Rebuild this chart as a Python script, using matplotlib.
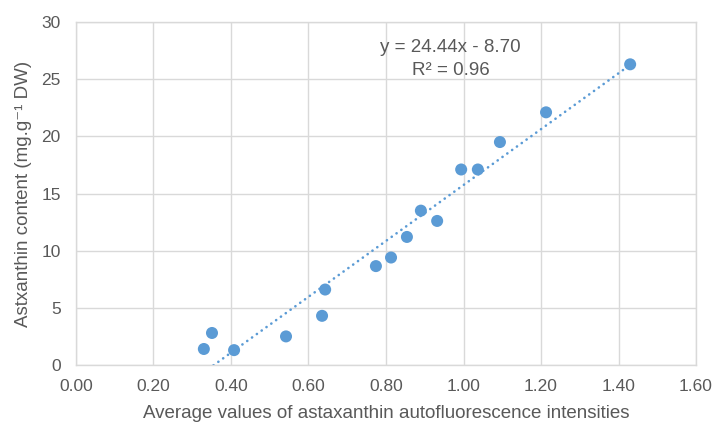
import matplotlib
matplotlib.use("Agg")
import matplotlib.pyplot as plt
import numpy as np

# autofluorescence intensity vs measured astaxanthin content
intensity = [0.33, 0.351, 0.408, 0.542, 0.635, 0.643, 0.774, 0.813, 0.854,
             0.89, 0.932, 0.994, 1.037, 1.094, 1.213, 1.43]
content = [1.4, 2.8, 1.3, 2.5, 4.3, 6.6, 8.65, 9.4, 11.2,
           13.5, 12.6, 17.1, 17.1, 19.5, 22.1, 26.3]

slope = 24.44
intercept = -8.70
r_squared = 0.96

x_ticks = [0.0, 0.2, 0.4, 0.6, 0.8, 1.0, 1.2, 1.4, 1.6]
y_ticks = [0, 5, 10, 15, 20, 25, 30]

BLUE = "#5B9BD5"
GRID = "#D9D9D9"
TEXT = "#595959"

plt.rcParams["font.family"] = ["Liberation Sans", "DejaVu Sans"]

fig = plt.figure(figsize=(7.18, 4.25), dpi=100)
ax = fig.add_axes([0.1058, 0.1412, 0.8636, 0.8070])

ax.set_xlim(0, 1.6)
ax.set_ylim(0, 30)
ax.set_xticks(x_ticks)
ax.set_xticklabels([f"{t:.2f}" for t in x_ticks])
ax.set_yticks(y_ticks)
ax.tick_params(length=0, labelsize=12.5, labelcolor=TEXT)
ax.tick_params(axis="x", pad=10)
ax.tick_params(axis="y", pad=11)
ax.grid(True, color=GRID, linewidth=1.0, zorder=0)
for sp in ax.spines.values():
    sp.set_color(GRID)
    sp.set_linewidth(1.0)

# linear trendline over the data range, round dots
xs = np.linspace(min(intensity), max(intensity), 200)
ax.plot(xs, slope * xs + intercept, color=BLUE, linewidth=1.9,
        linestyle=(0, (0.05, 2.2)), dash_capstyle="round", zorder=2)

ax.scatter(intensity, content, s=75, color=BLUE, edgecolors="none", zorder=3)

ax.text(0.603, 0.927, f"y = {slope:.2f}x - {abs(intercept):.2f}", transform=ax.transAxes,
        ha="center", va="center", fontsize=13.5, color=TEXT)
ax.text(0.605, 0.86, f"R² = {r_squared:.2f}", transform=ax.transAxes,
        ha="center", va="center", fontsize=13.5, color=TEXT)

ax.set_xlabel("Average values of astaxanthin autofluorescence intensities",
              fontsize=13.5, color=TEXT, va="center")
ax.set_ylabel("Astxanthin content (mg.g⁻¹ DW)", fontsize=13.5, color=TEXT, va="center")
ax.xaxis.set_label_coords(0.5, -0.14)
ax.yaxis.set_label_coords(-0.085, 0.5)

fig.savefig("out.png", dpi=100, facecolor="white")
